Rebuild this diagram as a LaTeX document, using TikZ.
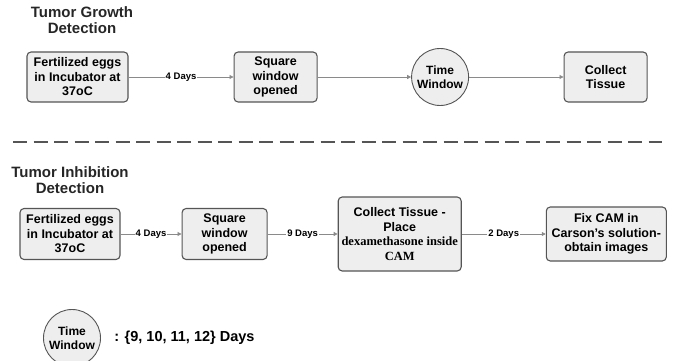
\documentclass[tikz,border=0pt]{standalone}
\usepackage{fontspec}
\setmainfont{Liberation Sans}
\newfontfamily\timesfont{Liberation Serif}
\usetikzlibrary{positioning,arrows.meta}
\definecolor{boxfill}{HTML}{EEEEEE}
\definecolor{boxline}{HTML}{555555}
\definecolor{linegray}{HTML}{8A8A8A}

\begin{document}
\begin{tikzpicture}[
    x=1pt, y=-1pt,
    stage/.style={draw=boxline, line width=1.1pt, fill=boxfill, rounded corners=4pt, align=center, inner sep=1pt, minimum height=50pt, font=\fontsize{12.5}{14.5}\selectfont\bfseries},
    window/.style={circle, draw=boxline, line width=0.9pt, fill=boxfill, minimum size=57pt, inner sep=0pt, align=center, font=\fontsize{12}{14}\selectfont\bfseries},
    heading/.style={align=center, font=\fontsize{15}{16.5}\selectfont\bfseries, text=black!85},
    arr/.style={-{Triangle[length=4pt,width=4pt]}, draw=linegray, line width=0.8pt},
    days/.style={fill=white, inner sep=1pt, font=\fontsize{9.5}{11}\selectfont\bfseries}
]
    \useasboundingbox (0,0) rectangle (673,361);

    % growth detection
    \node[heading] (titleA) at (82,20) {Tumor Growth\\Detection};
    \node[stage, minimum width=101pt] (eggsA) at (77.5,77) {Fertilized eggs\\in Incubator at\\37oC};
    \node[stage, minimum width=83pt, right=105pt of eggsA] (openA) {Square\\window\\opened};
    \node[window, right=93.5pt of openA] (timeA) {Time\\Window};
    \node[stage, minimum width=83pt, right=94.5pt of timeA] (tissueA) {Collect\\Tissue};

    \draw[arr] (eggsA) -- node[days] {4 Days} (openA);
    \draw[arr] (openA) -- (timeA);
    \draw[arr] (timeA) -- (tissueA);

    \draw[boxline, line width=2pt, dash pattern=on 14pt off 6.5pt] (13,142) -- (662,142);

    % inhibition detection
    \node[heading] (titleB) at (70,180) {Tumor Inhibition\\Detection};
    \node[stage, minimum width=100pt, minimum height=51pt] (eggsB) at (70,234) {Fertilized eggs\\in Incubator at\\37oC};
    \node[stage, minimum width=85pt, minimum height=51pt, right=61pt of eggsB] (openB) {Square\\window\\opened};
    \node[stage, minimum width=123pt, minimum height=74pt, right=70pt of openB] (tissueB) {Collect Tissue -\\Place\\{\timesfont dexamethasone inside}\\{\timesfont CAM}};
    \node[stage, minimum width=120pt, minimum height=54pt, right=84pt of tissueB] (fixB) {Fix CAM in\\Carson's solution-\\obtain images};

    \draw[arr] (eggsB) -- node[days] {4 Days} (openB);
    \draw[arr] (openB) -- node[days] {9 Days} (tissueB);
    \draw[arr] (tissueB) -- node[days] {2 Days} (fixB);

    % key
    \node[window] (timeKey) at (72,338) {Time\\Window};
    \node[font=\fontsize{14.5}{16}\selectfont\bfseries, right=10pt of timeKey] (keyText) {: \{9, 10, 11, 12\} Days};
\end{tikzpicture}
\end{document}
